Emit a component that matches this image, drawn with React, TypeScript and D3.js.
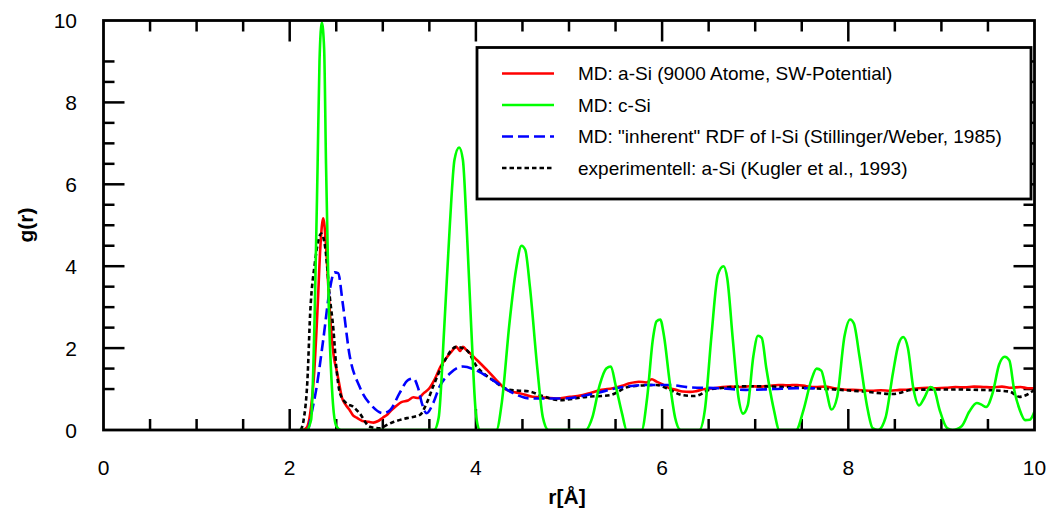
import React from "react";
import * as d3 from "d3";

// MD: a-Si (9000 Atome, SW-Potential)
const redData: [number, number][] = [
  [2.14, 0], [2.18, 0.05], [2.22, 0.4], [2.26, 1.3], [2.3, 3.0], [2.33, 4.5], [2.36, 5.17],
  [2.39, 4.5], [2.42, 3.3], [2.45, 2.3], [2.48, 1.7], [2.5, 1.5], [2.53, 1.15], [2.56, 0.8],
  [2.6, 0.62], [2.64, 0.5], [2.68, 0.36], [2.72, 0.3], [2.78, 0.22], [2.85, 0.2], [2.9, 0.18],
  [2.95, 0.22], [3.0, 0.3], [3.05, 0.38], [3.1, 0.5], [3.15, 0.6], [3.2, 0.68], [3.27, 0.72],
  [3.33, 0.8], [3.38, 0.78], [3.44, 0.9], [3.5, 1.02], [3.56, 1.25], [3.62, 1.55], [3.68, 1.75],
  [3.74, 1.92], [3.79, 2.03], [3.83, 1.93], [3.86, 2.03], [3.9, 1.95], [3.94, 1.87], [4.01, 1.71],
  [4.06, 1.6], [4.12, 1.46], [4.22, 1.22], [4.33, 0.98], [4.4, 0.93], [4.47, 0.9], [4.61, 0.81],
  [4.75, 0.79], [4.87, 0.77], [5.01, 0.81], [5.12, 0.84], [5.22, 0.9], [5.35, 0.98], [5.47, 1.02],
  [5.57, 1.08], [5.65, 1.14], [5.75, 1.18], [5.83, 1.16], [5.89, 1.24], [5.94, 1.18], [6.0, 1.12],
  [6.08, 1.02], [6.15, 0.98], [6.22, 0.94], [6.3, 0.93], [6.37, 0.95], [6.46, 1.0], [6.55, 1.02],
  [6.65, 1.05], [6.73, 1.06], [6.85, 1.05], [6.94, 1.07], [7.05, 1.06], [7.15, 1.08], [7.25, 1.1],
  [7.35, 1.09], [7.45, 1.1], [7.55, 1.07], [7.65, 1.05], [7.75, 1.06], [7.85, 1.02], [7.95, 0.99],
  [8.05, 0.98], [8.15, 0.97], [8.25, 0.96], [8.35, 0.97], [8.45, 0.96], [8.55, 0.98], [8.65, 0.99],
  [8.75, 1.02], [8.85, 1.03], [8.95, 1.02], [9.05, 1.03], [9.15, 1.05], [9.25, 1.04], [9.35, 1.06],
  [9.45, 1.05], [9.55, 1.04], [9.65, 1.06], [9.75, 1.03], [9.85, 1.05], [9.93, 1.02], [10.0, 1.02],
];

// MD: c-Si
const greenData: [number, number][] = [
  [2.1, 0], [2.18, 0], [2.23, 0.25], [2.27, 3.0], [2.3, 6.5], [2.32, 9.0], [2.345, 9.95],
  [2.37, 9.3], [2.39, 6.5], [2.42, 3.0], [2.46, 0.8], [2.5, 0.1], [2.55, 0], [3.55, 0],
  [3.6, 0.3], [3.66, 2.5], [3.72, 5.0], [3.77, 6.6], [3.82, 6.9], [3.86, 6.6], [3.9, 5.0],
  [3.95, 2.5], [4.0, 0.4], [4.04, 0], [4.22, 0], [4.28, 0.7], [4.36, 2.6], [4.43, 3.9],
  [4.49, 4.5], [4.53, 4.4], [4.58, 3.5], [4.66, 1.5], [4.72, 0.3], [4.78, 0], [5.18, 0],
  [5.25, 0.3], [5.33, 1.1], [5.4, 1.5], [5.45, 1.55], [5.5, 1.1], [5.57, 0.4], [5.62, 0],
  [5.78, 0], [5.84, 0.8], [5.9, 2.2], [5.94, 2.65], [5.98, 2.7], [6.02, 2.3], [6.08, 1.2],
  [6.14, 0.3], [6.2, 0], [6.4, 0], [6.46, 0.5], [6.53, 2.3], [6.6, 3.8], [6.66, 4.0],
  [6.7, 3.7], [6.76, 2.2], [6.82, 0.8], [6.87, 0.4], [6.92, 0.6], [6.98, 1.8], [7.03, 2.3],
  [7.07, 2.25], [7.12, 1.5], [7.2, 0.5], [7.26, 0], [7.44, 0], [7.52, 0.5], [7.6, 1.2],
  [7.66, 1.5], [7.71, 1.45], [7.76, 1.0], [7.82, 0.5], [7.88, 0.8], [7.96, 2.3], [8.02, 2.7],
  [8.06, 2.6], [8.12, 1.8], [8.2, 0.6], [8.26, 0.05], [8.32, 0], [8.4, 0.3], [8.48, 1.4],
  [8.54, 2.1], [8.59, 2.27], [8.64, 2.0], [8.7, 1.0], [8.76, 0.6], [8.82, 0.8], [8.88, 1.05],
  [8.92, 1.0], [8.98, 0.5], [9.06, 0.05], [9.12, 0], [9.22, 0.1], [9.3, 0.45], [9.38, 0.66],
  [9.43, 0.62], [9.48, 0.56], [9.55, 0.9], [9.62, 1.6], [9.68, 1.79], [9.73, 1.7], [9.78, 1.0],
  [9.84, 0.5], [9.9, 0.24], [9.95, 0.25], [10.0, 0.45],
];

// MD: "inherent" RDF of l-Si (Stillinger/Weber, 1985)
const blueData: [number, number][] = [
  [2.2, 0], [2.22, 0.24], [2.29, 1.06], [2.36, 2.2], [2.43, 3.42], [2.48, 3.85], [2.52, 3.83],
  [2.57, 3.09], [2.64, 1.87], [2.75, 1.06], [2.89, 0.57], [3.0, 0.41], [3.08, 0.49], [3.18, 0.9],
  [3.27, 1.22], [3.33, 1.26], [3.38, 1.02], [3.42, 0.65], [3.47, 0.41], [3.54, 0.65], [3.61, 1.06],
  [3.72, 1.38], [3.86, 1.55], [4.0, 1.46], [4.18, 1.22], [4.4, 0.9], [4.58, 0.77], [4.94, 0.77],
  [5.29, 0.9], [5.51, 1.02], [5.83, 1.1], [6.08, 1.1], [6.3, 1.04], [6.62, 1.02], [6.9, 0.98],
  [7.2, 1.0], [7.44, 1.02], [7.69, 1.02],
];

// experimentell: a-Si (Kugler et al., 1993)
const blackData: [number, number][] = [
  [2.12, 0], [2.15, 0.25], [2.19, 1.2], [2.22, 2.85], [2.27, 4.07], [2.34, 4.8], [2.38, 4.48],
  [2.43, 3.26], [2.47, 2.44], [2.5, 1.55], [2.54, 0.9], [2.61, 0.65], [2.68, 0.57], [2.75, 0.41],
  [2.86, 0.08], [2.97, 0.04], [3.04, 0.12], [3.12, 0.2], [3.26, 0.29], [3.4, 0.37], [3.47, 0.65],
  [3.54, 1.06], [3.65, 1.63], [3.79, 2.03], [3.9, 1.95], [4.01, 1.55], [4.18, 1.22], [4.36, 0.98],
  [4.58, 0.94], [4.69, 0.85], [4.9, 0.73], [5.19, 0.81], [5.44, 0.85], [5.65, 1.06], [5.94, 1.1],
  [6.05, 1.02], [6.22, 0.85], [6.35, 0.83], [6.53, 1.0], [6.62, 1.02], [6.9, 1.07], [7.62, 1.02],
  [8.16, 0.94], [8.48, 0.88], [8.69, 0.98], [9.05, 0.99], [9.41, 0.98], [9.73, 0.94], [9.84, 0.81],
  [10.0, 0.98],
];

const xTickLabels = [0, 2, 4, 6, 8, 10];
const yTickLabels = [0, 2, 4, 6, 8, 10];
const xMinorTicks = [0.5, 1, 1.5, 2.5, 3, 3.5, 4.5, 5, 5.5, 6.5, 7, 7.5, 8.5, 9, 9.5];
const yMinorTicks = [1, 1.5, 2.5, 3, 3.5, 4.5, 5, 5.5, 6.5, 7, 7.5, 8.5, 9];
const majorTicks = [2, 4, 6, 8];

const legendItems = [
  { label: "MD: a-Si (9000 Atome, SW-Potential)", color: "#ff0000", dash: "none" },
  { label: "MD: c-Si", color: "#00ff00", dash: "none" },
  { label: "MD: \"inherent\" RDF of l-Si (Stillinger/Weber, 1985)", color: "#0000ff", dash: "11,5" },
  { label: "experimentell: a-Si (Kugler et al., 1993)", color: "#000000", dash: "4.5,3" },
];

const W = 1054;
const H = 511;
const L = 103.5, R = 1034.5, T = 20.5, B = 430;

export default function App() {
  const x = d3.scaleLinear().domain([0, 10]).range([L, R]);
  const y = d3.scaleLinear().domain([0, 10]).range([B, T]);
  const line = d3
    .line<[number, number]>()
    .x((d) => x(d[0]))
    .y((d) => y(d[1]))
    .curve(d3.curveMonotoneX);

  const font = "'Liberation Sans', Arial, Helvetica, sans-serif";
  const series = [
    { data: redData, color: "#ff0000", dash: "none" },
    { data: blackData, color: "#000000", dash: "4.5,3" },
    { data: blueData, color: "#0000ff", dash: "11,5" },
    { data: greenData, color: "#00ff00", dash: "none" },
  ];

  const lgX = 477, lgY = 47.5, lgW = 554, lgH = 151.5;
  const rows = [73.5, 105, 136.5, 168];

  return (
    <svg
      width={W}
      height={H}
      style={{ position: "absolute", left: 0, top: 0, background: "#fff" }}
      fontFamily={font}
    >
      <defs>
        <clipPath id="plotClip">
          <rect x={L} y={T - 2} width={R - L} height={B - T + 2} />
        </clipPath>
      </defs>
      <rect x={0} y={0} width={W} height={H} fill="#fff" />

      {/* ticks */}
      <g stroke="#000" strokeWidth={2.5}>
        {xMinorTicks.map((t) => (
          <g key={"xm" + t}>
            <line x1={x(t)} x2={x(t)} y1={B} y2={B - 11} />
            <line x1={x(t)} x2={x(t)} y1={T} y2={T + 11} />
          </g>
        ))}
        {majorTicks.map((t) => (
          <g key={"xM" + t}>
            <line x1={x(t)} x2={x(t)} y1={B} y2={B - 21} />
            <line x1={x(t)} x2={x(t)} y1={T} y2={T + 21} />
          </g>
        ))}
        {yMinorTicks.map((t) => (
          <g key={"ym" + t}>
            <line x1={L} x2={L + 11} y1={y(t)} y2={y(t)} />
            <line x1={R} x2={R - 11} y1={y(t)} y2={y(t)} />
          </g>
        ))}
        {majorTicks.map((t) => (
          <g key={"yM" + t}>
            <line x1={L} x2={L + 21} y1={y(t)} y2={y(t)} />
            <line x1={R} x2={R - 21} y1={y(t)} y2={y(t)} />
          </g>
        ))}
      </g>

      {/* curves */}
      <g clipPath="url(#plotClip)" fill="none" strokeWidth={2.6} strokeLinejoin="round">
        {series.map((s, i) => (
          <path
            key={i}
            d={line(s.data) || ""}
            stroke={s.color}
            strokeDasharray={s.dash}
          />
        ))}
      </g>

      {/* frame */}
      <rect x={L} y={T} width={R - L} height={B - T} fill="none" stroke="#000" strokeWidth={2.8} />

      {/* legend */}
      <rect x={lgX} y={lgY} width={lgW} height={lgH} fill="#fff" stroke="#000" strokeWidth={2.8} />
      {legendItems.map((it, i) => (
        <g key={it.label}>
          <line
            x1={502}
            x2={554}
            y1={rows[i]}
            y2={rows[i]}
            stroke={it.color}
            strokeWidth={2.5}
            strokeDasharray={it.dash}
          />
          <text x={578} y={rows[i]} dy="0.35em" fontSize={19} fill="#000">
            {it.label}
          </text>
        </g>
      ))}

      {/* tick labels */}
      {xTickLabels.map((t) => (
        <text key={"xl" + t} x={x(t)} y={474.5} textAnchor="middle" fontSize={21} fill="#000">
          {t}
        </text>
      ))}
      {yTickLabels.map((t) => (
        <text key={"yl" + t} x={77} y={y(t)} dy="0.36em" textAnchor="end" fontSize={21} fill="#000">
          {t}
        </text>
      ))}

      {/* axis titles */}
      <text x={567} y={504} textAnchor="middle" fontSize={21} fontWeight="bold" fill="#000">
        r[Å]
      </text>
      <text
        transform={`translate(33,225) rotate(-90)`}
        textAnchor="middle"
        fontSize={21}
        fontWeight="bold"
        fill="#000"
      >
        g(r)
      </text>
    </svg>
  );
}
